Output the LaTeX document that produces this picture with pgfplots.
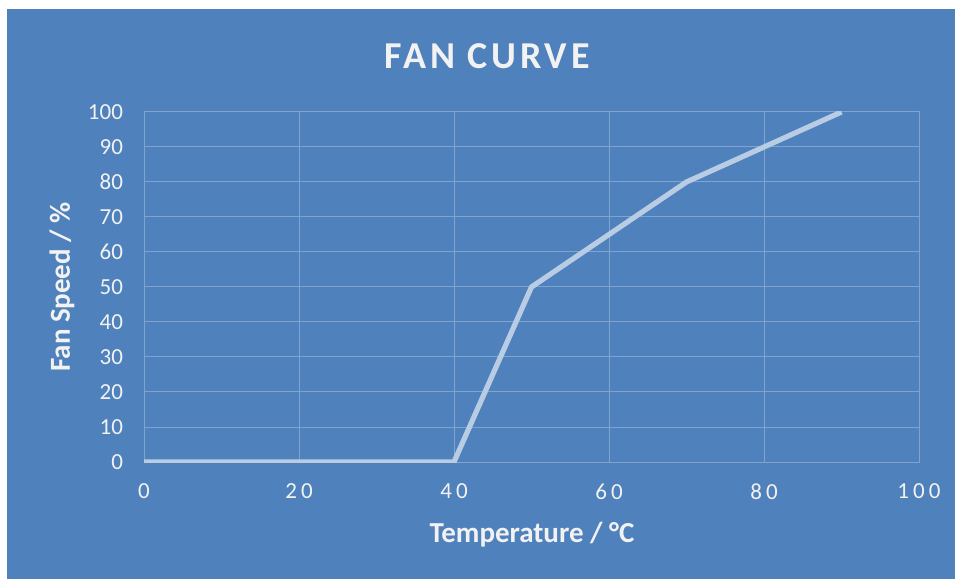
\documentclass[border=0pt]{standalone}
\usepackage{fontspec}
\setmainfont{Carlito}
\usepackage{pgfplots}
\pgfplotsset{compat=1.18}
\definecolor{bgblue}{RGB}{79,129,189}
\definecolor{gridc}{RGB}{128,164,206}
\definecolor{curve}{RGB}{184,204,228}
\definecolor{txt}{RGB}{242,242,242}
\begin{document}
\begin{tikzpicture}
  \useasboundingbox (0pt,0pt) rectangle (477.5pt,289.5pt);
  \fill[white] (0pt,0pt) rectangle (477.5pt,289.5pt);
  \fill[bgblue] (3.5pt,0pt) rectangle (477.5pt,285pt);
  \node[txt, font=\fontsize{19}{21}\selectfont\bfseries\addfontfeatures{LetterSpace=10}] at (243.5pt,261.5pt) {FAN CURVE};
  \node[txt, font=\fontsize{14.5}{16}\selectfont\bfseries] at (266pt,22pt) {Temperature / °C};
  \node[txt, font=\fontsize{14.5}{16}\selectfont\bfseries, rotate=90] at (31pt,146pt) {Fan Speed / \%};
  \begin{axis}[
      at={(72pt,58.5pt)}, anchor=south west,
      scale only axis,
      width=387.5pt, height=175pt,
      xmin=0, xmax=100, ymin=0, ymax=100,
      xtick={0,20,...,100}, ytick={0,10,...,100},
      grid=major,
      grid style={gridc, line width=0.5pt},
      axis line style={gridc, line width=0.5pt},
      major tick length=0pt,
      tick label style={txt},
      /pgf/number format/assume math mode=true,
      xticklabel style={yshift=-7.5pt, font=\fontsize{11.5}{13}\selectfont\addfontfeatures{LetterSpace=18}},
      yticklabel style={xshift=-7pt, font=\fontsize{11.5}{13}\selectfont},
    ]
    \addplot[curve, line width=2.6pt, line join=round] coordinates {
      (0,0) (40,0) (50,50) (70,80) (90,100)
    };
  \end{axis}
\end{tikzpicture}
\end{document}
